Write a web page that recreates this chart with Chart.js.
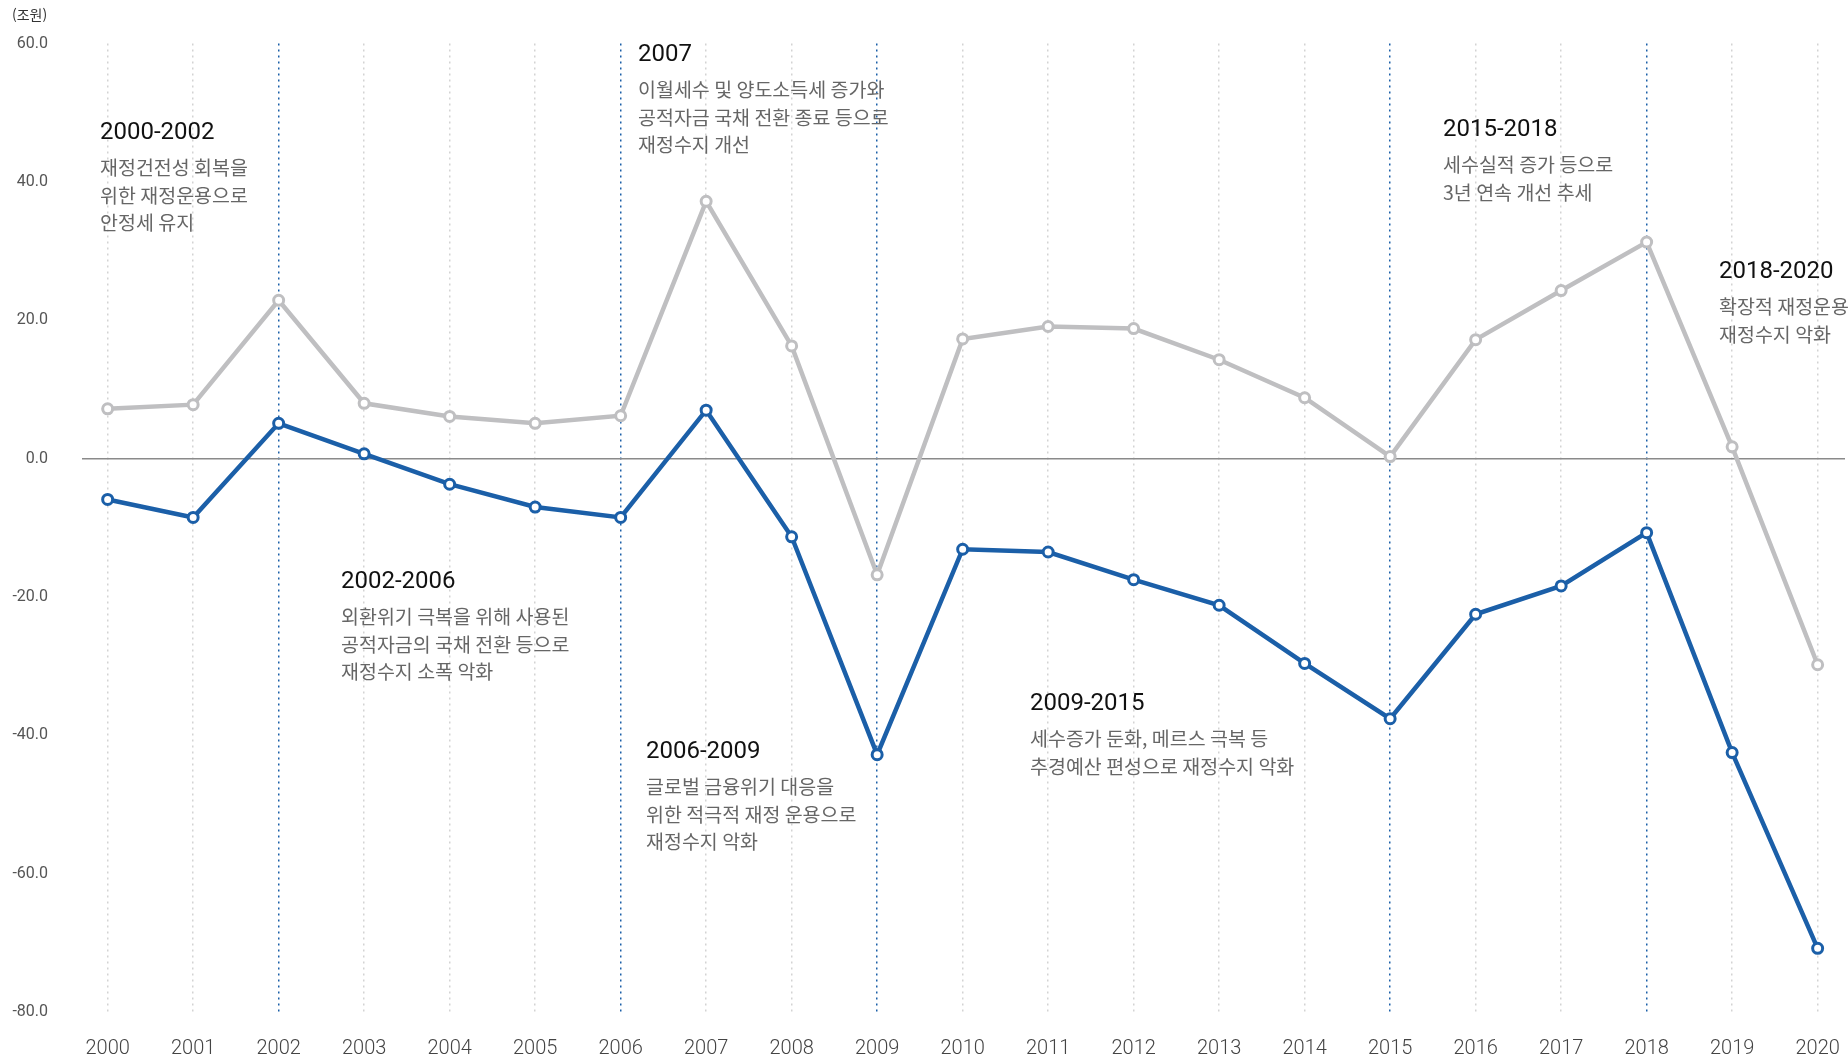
<!DOCTYPE html>
<html lang="ko">
<head>
<meta charset="utf-8">
<title>재정수지 추이</title>
<script src="https://cdn.jsdelivr.net/npm/chart.js@4"></script>
<style>
  html, body { margin: 0; padding: 0; background: #fff; overflow: hidden; }
  #wrap { position: relative; width: 1848px; height: 1060px; }
</style>
</head>
<body>
<div id="wrap"><canvas id="fiscalChart"></canvas></div>
<script>
// years on the x axis
const years = ["2000", "2001", "2002", "2003", "2004", "2005", "2006", "2007", "2008", "2009", "2010",
  "2011", "2012", "2013", "2014", "2015", "2016", "2017", "2018", "2019", "2020"];

// gray line (통합재정수지), 조원
const totalBalance = [7.2, 7.8, 22.9, 8.0, 6.1, 5.1, 6.2, 37.2, 16.3, -16.8, 17.3,
  19.1, 18.8, 14.3, 8.8, 0.3, 17.2, 24.3, 31.3, 1.7, -29.8];

// blue line (관리재정수지), 조원
const managedBalance = [-5.9, -8.5, 5.1, 0.7, -3.7, -7.0, -8.5, 7.0, -11.3, -42.8, -13.1,
  -13.5, -17.5, -21.2, -29.6, -37.6, -22.5, -18.4, -10.7, -42.5, -70.8];

// y axis ticks
const yTicks = [60, 40, 20, 0, -20, -40, -60, -80];

// years with the blue dotted divider
const periodYears = ["2002", "2006", "2009", "2015", "2018"];

// period notes
const noteTitles = ["2000-2002", "2002-2006", "2007", "2006-2009", "2009-2015", "2015-2018", "2018-2020"];
const noteLines = [
  ["재정건전성 회복을", "위한 재정운용으로", "안정세 유지"],
  ["외환위기 극복을 위해 사용된", "공적자금의 국채 전환 등으로", "재정수지 소폭 악화"],
  ["이월세수 및 양도소득세 증가와", "공적자금 국채 전환 종료 등으로", "재정수지 개선"],
  ["글로벌 금융위기 대응을", "위한 적극적 재정 운용으로", "재정수지 악화"],
  ["세수증가 둔화, 메르스 극복 등", "추경예산 편성으로 재정수지 악화"],
  ["세수실적 증가 등으로", "3년 연속 개선 추세"],
  ["확장적 재정운용으로", "재정수지 악화"]
];
// where each note sits (left x, title centre y) in px
const notePlaces = [[100, 133], [341, 582], [638, 55], [646, 752], [1030, 704], [1443, 130], [1719, 272]];

const BLUE = "#1b5fa8";
const GRAY = "#bfbfc1";

const toPoints = (arr) => arr.map((v, i) => ({ x: i, y: v }));

// draws the unit label and the period notes
const notesPlugin = {
  id: "notes",
  afterDraw(chart) {
    const ctx = chart.ctx;
    ctx.save();
    ctx.textBaseline = "middle";
    ctx.textAlign = "left";

    ctx.fillStyle = "#333";
    ctx.font = "14px 'Noto Sans CJK KR', Roboto, sans-serif";
    ctx.fillText("(조원)", 12, 15);

    noteTitles.forEach((title, i) => {
      const [x, y] = notePlaces[i];
      ctx.fillStyle = "#111";
      ctx.font = "24px Roboto, sans-serif";
      ctx.fillText(title, x, y);
      ctx.fillStyle = "#666";
      ctx.font = "19.5px 'Noto Sans CJK KR', sans-serif";
      noteLines[i].forEach((line, j) => {
        ctx.fillText(line, x, y + 35 + j * 27.5);
      });
    });
    ctx.restore();
  }
};

const lineStyle = (color) => ({
  borderColor: color,
  borderWidth: 4.5,
  pointRadius: 5,
  pointBorderWidth: 3,
  pointBackgroundColor: "#fff",
  pointBorderColor: color,
  tension: 0,
  clip: false
});

new Chart(document.getElementById("fiscalChart"), {
  type: "line",
  data: {
    datasets: [
      { label: "통합재정수지", data: toPoints(totalBalance), ...lineStyle(GRAY) },
      { label: "관리재정수지", data: toPoints(managedBalance), ...lineStyle(BLUE) }
    ]
  },
  options: {
    responsive: true,
    maintainAspectRatio: false,
    animation: false,
    layout: { autoPadding: false, padding: { top: 38, right: 3, left: 0, bottom: 0 } },
    plugins: {
      legend: { display: false },
      tooltip: { enabled: false }
    },
    scales: {
      x: {
        type: "linear",
        min: -0.3,
        max: 20.32,
        afterBuildTicks(scale) {
          scale.ticks = years.map((_, i) => ({ value: i }));
        },
        afterFit(scale) {
          scale.height = 48;
          scale.paddingLeft = 0;
          scale.paddingRight = 0;
        },
        ticks: {
          callback: (v) => years[v],
          color: "#444",
          padding: 25,
          maxRotation: 0,
          autoSkip: false,
          font: { family: "Roboto", size: 20, weight: 300 }
        },
        grid: {
          drawTicks: false,
          lineWidth: 1.5,
          color: (c) => periodYears.includes(years[c.tick ? c.tick.value : -1]) ? BLUE : "#d3d3d3"
        },
        border: { display: false, dash: [2, 4] }
      },
      y: {
        min: -80,
        max: 60,
        afterBuildTicks(scale) {
          scale.ticks = yTicks.map((v) => ({ value: v }));
        },
        afterFit(scale) {
          scale.width = 82;
        },
        ticks: {
          callback: (v) => v.toFixed(1),
          color: "#555",
          padding: 34,
          font: { family: "Roboto", size: 16 }
        },
        grid: {
          drawTicks: false,
          lineWidth: 1.5,
          color: (c) => (c.tick && c.tick.value === 0 ? "#8a8a8a" : "rgba(0,0,0,0)")
        },
        border: { display: false }
      }
    }
  },
  plugins: [notesPlugin]
});
</script>
</body>
</html>
